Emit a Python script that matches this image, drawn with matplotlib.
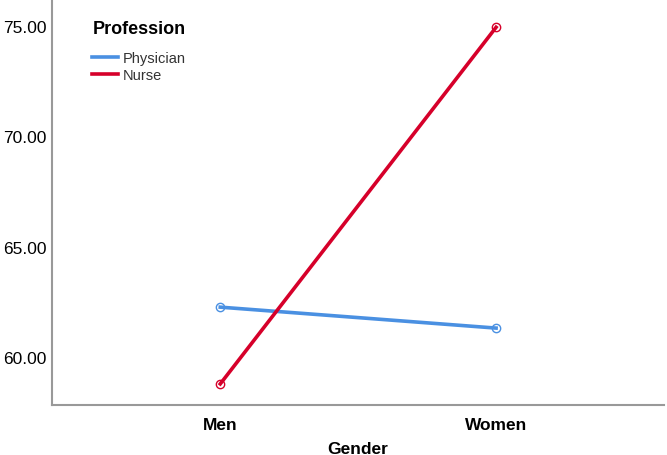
import matplotlib.pyplot as plt
from matplotlib.lines import Line2D

plt.rcParams['font.family'] = ['Liberation Sans', 'DejaVu Sans']

# Estimated marginal means
genders = ['Men', 'Women']
professions = ['Physician', 'Nurse']
physician = [62.26, 61.31]
nurse = [58.78, 74.95]
colors = ['#4a90e2', '#d6002a']
yticks = [60, 65, 70, 75]

fig = plt.figure(figsize=(6.67, 4.56), dpi=100)
ax = fig.add_axes([0.078, 0.11, 0.918, 0.886])

x = range(len(genders))
for vals, name, c in zip([physician, nurse], professions, colors):
    ax.plot(x, vals, color=c, linewidth=2.6, label=name,
            marker='o', markersize=6, markerfacecolor='none',
            markeredgecolor=c, markeredgewidth=1)

ax.set_xlim(-0.61, 1.61)
ax.set_ylim(57.83, 76.15)
ax.set_xticks(list(x))
ax.set_xticklabels(genders, fontsize=12.5, fontweight='bold')
ax.set_yticks(yticks)
ax.set_yticklabels(['%.2f' % v for v in yticks], fontsize=12.5)
ax.tick_params(axis='x', length=0, pad=8.5)
ax.tick_params(axis='y', length=0, pad=4)
ax.set_xlabel('Gender', fontsize=12.5, fontweight='bold', labelpad=7)

for s in ['top', 'right']:
    ax.spines[s].set_visible(False)
for s in ['left', 'bottom']:
    ax.spines[s].set_color('#999999')
    ax.spines[s].set_linewidth(1.5)

# legend: title as separate text, handles without markers
ax.text(0.067, 0.931, 'Profession', transform=ax.transAxes, fontsize=13,
        fontweight='bold', va='center', ha='left')
handles = [Line2D([], [], color=c, linewidth=2.6) for c in colors]
leg = ax.legend(handles, professions, loc='upper left',
                bbox_to_anchor=(0.065, 0.875), frameon=False, borderpad=0,
                borderaxespad=0, fontsize=10.5, handlelength=1.8,
                handletextpad=0.3, labelspacing=0.2)
for t in leg.get_texts():
    t.set_color('#333333')

fig.savefig('out.png', dpi=100)
